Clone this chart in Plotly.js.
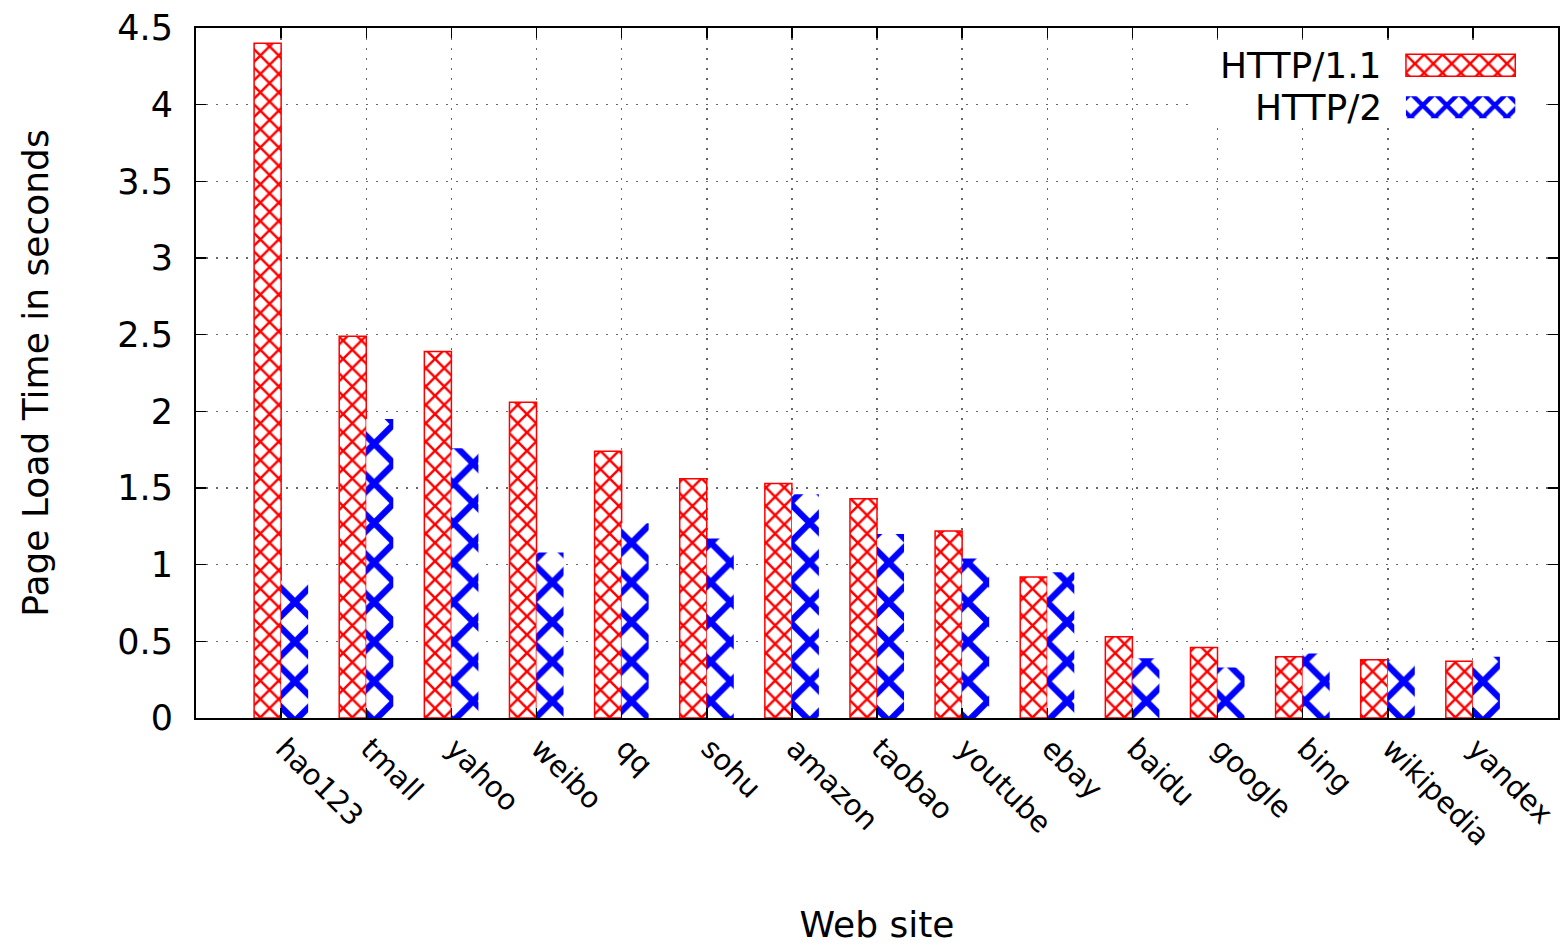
<!DOCTYPE html>
<html>
<head>
<meta charset="utf-8">
<script src="https://cdn.plot.ly/plotly-3.0.1.min.js"></script>
<style>html,body{margin:0;padding:0;background:#fff;}#chart{width:1560px;height:945px;}</style>
</head>
<body>
<div id="chart"></div>
<script>
const sites = ['hao123','tmall','yahoo','weibo','qq','sohu','amazon','taobao','youtube','ebay','baidu','google','bing','wikipedia','yandex'];
const http11 = [4.40, 2.49, 2.39, 2.06, 1.74, 1.56, 1.53, 1.43, 1.22, 0.92, 0.53, 0.46, 0.40, 0.38, 0.37];
const http2 = [0.90, 1.95, 1.76, 1.08, 1.27, 1.17, 1.46, 1.20, 1.04, 0.95, 0.39, 0.33, 0.42, 0.38, 0.40];
const seriesNames = ['HTTP/1.1', 'HTTP/2'];
const yTicks = [0, 0.5, 1, 1.5, 2, 2.5, 3, 3.5, 4, 4.5];

const FONT = 'DejaVu Sans, sans-serif';
const redStyle = {color: 'rgba(0,0,0,0)', line: {color: '#ff0000', width: 1.5},
  pattern: {shape: 'x', fgcolor: '#ff0000', bgcolor: '#ffffff', size: 13, solidity: 0.35, fillmode: 'replace'}};
const blueStyle = {color: 'rgba(0,0,0,0)', line: {color: '#0000ff', width: 0},
  pattern: {shape: 'x', fgcolor: '#0000ff', bgcolor: '#ffffff', size: 28, solidity: 0.4, fillmode: 'replace'}};

const traces = [
  {type: 'bar', x: sites, y: http11, name: seriesNames[0], marker: redStyle, showlegend: false, xaxis: 'x', yaxis: 'y'},
  {type: 'bar', x: sites, y: http2, name: seriesNames[1], marker: blueStyle, showlegend: false, xaxis: 'x', yaxis: 'y'},
  // legend samples (inset)
  {type: 'bar', orientation: 'h', x: [1], y: [1], base: 0, width: 0.52, marker: redStyle, showlegend: false, xaxis: 'x2', yaxis: 'y2', hoverinfo: 'skip'},
  {type: 'bar', orientation: 'h', x: [1], y: [0], base: 0, width: 0.52,
   marker: {color: 'rgba(0,0,0,0)', line: {width: 0}, pattern: {shape: 'x', fgcolor: '#0000ff', bgcolor: '#ffffff', size: 17, solidity: 0.45, fillmode: 'replace'}},
   showlegend: false, xaxis: 'x2', yaxis: 'y2', hoverinfo: 'skip'}
];

const layout = {
  width: 1560, height: 945,
  margin: {l: 196, r: 2, t: 28, b: 227},
  paper_bgcolor: '#ffffff', plot_bgcolor: '#ffffff',
  font: {family: FONT, size: 36, color: '#000000'},
  barmode: 'group', bargap: 0.365, bargroupgap: 0,
  showlegend: false,
  xaxis: {
    type: 'category', range: [-1, 15],
    tickangle: 45, tickfont: {family: FONT, size: 29, color: '#000'},
    showline: true, linecolor: '#000', linewidth: 2, mirror: 'ticks',
    ticks: 'inside', ticklen: 10, tickwidth: 1.5, tickcolor: '#000',
    ticklabelstandoff: 0, ticklabelshift: 3,
    showgrid: true, gridcolor: '#666', gridwidth: 1.5, griddash: '2px,8px',
    title: {text: 'Web site', font: {family: FONT, size: 36, color: '#000'}, standoff: 84},
    automargin: false, zeroline: false
  },
  yaxis: {
    range: [0, 4.5], tickvals: yTicks, ticktext: yTicks.map(String),
    tickfont: {family: FONT, size: 35, color: '#000'},
    showline: true, linecolor: '#000', linewidth: 2, mirror: 'ticks',
    ticks: 'inside', ticklen: 10, tickwidth: 1.5, tickcolor: '#000',
    ticklabelstandoff: 14,
    showgrid: true, gridcolor: '#666', gridwidth: 1.5, griddash: '2px,8px',
    title: {text: 'Page Load Time in seconds', font: {family: FONT, size: 36, color: '#000'}, standoff: 58},
    automargin: false, zeroline: false
  },
  xaxis2: {domain: [0.733, 0.987], range: [-1.936, 1.229], anchor: 'y2', visible: false, fixedrange: true},
  yaxis2: {domain: [0.859, 0.975], range: [-0.43, 1.476], anchor: 'x2', visible: false, fixedrange: true},
  annotations: [
    {xref: 'x2', yref: 'y2', x: -0.2, y: 1, xanchor: 'right', yanchor: 'middle', text: seriesNames[0], showarrow: false, font: {family: FONT, size: 36, color: '#000'}},
    {xref: 'x2', yref: 'y2', x: -0.2, y: 0, xanchor: 'right', yanchor: 'middle', text: seriesNames[1], showarrow: false, font: {family: FONT, size: 36, color: '#000'}}
  ]
};

Plotly.newPlot('chart', traces, layout, {staticPlot: true, displayModeBar: false});
</script>
</body>
</html>
